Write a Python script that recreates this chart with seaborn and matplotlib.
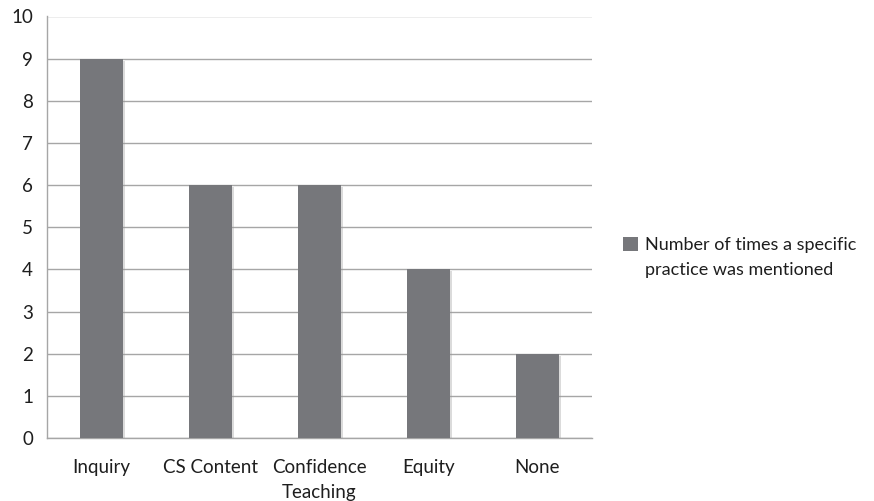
import matplotlib
matplotlib.use("Agg")
import matplotlib.pyplot as plt
import matplotlib.patheffects as pe
import seaborn as sns
import pandas as pd
from matplotlib.patches import Patch

categories = ["Inquiry", "CS Content", "Confidence\nTeaching", "Equity", "None"]
counts = [9, 6, 6, 4, 2]
series_lines = ["Number of times a specific", "practice was mentioned"]
y_ticks = list(range(0, 11))

bar_color = "#76777b"
grid_color = "#a6a6a6"
text_color = "#1e1e1e"

sns.set_theme(style="white")
plt.rcParams["font.family"] = ["Lato", "DejaVu Sans"]

df = pd.DataFrame({"practice": categories, "count": counts})

fig = plt.figure(figsize=(8.74, 5.01), dpi=100)
ax = fig.add_axes([47 / 874, 1 - 438 / 501, (592 - 47) / 874, (438 - 16.5) / 501])

sns.barplot(data=df, x="practice", y="count", color=bar_color, saturation=1,
            width=0.4, linewidth=0, ax=ax, zorder=3)

# soft drop shadow on the bars
for bar in ax.patches:
    bar.set_path_effects([pe.SimplePatchShadow(offset=(1.5, -1.5), shadow_rgbFace="#9a9a9a",
                                               alpha=0.35), pe.Normal()])

ax.set_ylim(0, 10)
ax.set_xlim(-0.5, len(categories) - 0.5)
ax.set_yticks(y_ticks)
ax.yaxis.grid(True, color=grid_color, linewidth=1)
ax.set_axisbelow(True)
ax.set_xlabel("")
ax.set_ylabel("")

# category boundary ticks on the x axis
ax.set_xticks([i - 0.5 for i in range(len(categories) + 1)], minor=False)
ax.set_xticklabels([])
ax.set_xticks(range(len(categories)), minor=True)
ax.set_xticklabels(categories, minor=True, fontsize=13.5, color=text_color,
                   linespacing=1.6)
ax.tick_params(axis="x", which="major", length=6, width=1, color=grid_color, direction="out")
ax.tick_params(axis="x", which="minor", length=0, pad=15)
ax.tick_params(axis="y", length=5, width=1, color=grid_color, direction="out",
               labelsize=13.5, labelcolor=text_color, pad=5)

for side in ["top", "right"]:
    ax.spines[side].set_visible(False)
for side in ["left", "bottom"]:
    ax.spines[side].set_color(grid_color)
    ax.spines[side].set_linewidth(1)

# legend: swatch beside the first line, second line wrapped underneath
handle = Patch(facecolor=bar_color, edgecolor="none")
leg = fig.legend([handle], [series_lines[0]], loc="center left",
                 bbox_to_anchor=(623 / 874, 1 - 245 / 501), frameon=False,
                 borderpad=0, borderaxespad=0,
                 fontsize=13, handlelength=0.85, handleheight=0.85, handletextpad=0.35,
                 labelcolor=text_color)
fig.canvas.draw()
first = leg.get_texts()[0].get_window_extent()
fig.text(first.x0 / 874, (first.y0 - 25) / 501, series_lines[1], fontsize=13,
         color=text_color, ha="left", va="bottom")

fig.savefig("out.png", dpi=100)
